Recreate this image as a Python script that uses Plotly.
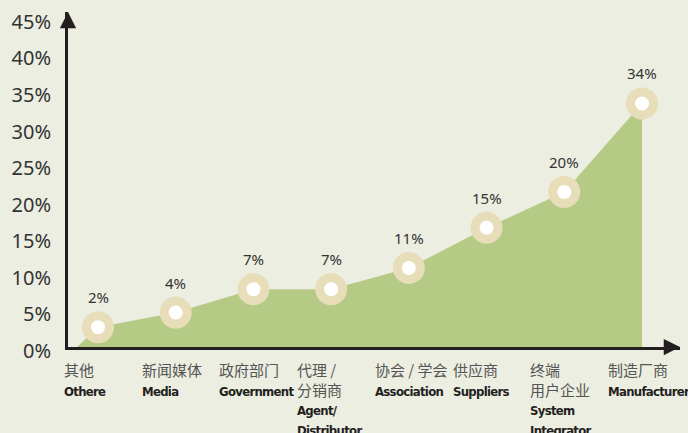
import plotly.graph_objects as go

# ---- data ----
categories_cn = ["其他", "新闻媒体", "政府部门", "代理 /<br>分销商", "协会 / 学会", "供应商", "终端<br>用户企业", "制造厂商"]
categories_en = ["Othere", "Media", "Government", "Agent/<br>Distributor", "Association", "Suppliers", "System<br>Integrator", "Manufacturer"]
values = [2.7, 4.7, 7.9, 7.9, 10.8, 16.3, 21.2, 33.3]
value_labels = ["2%", "4%", "7%", "7%", "11%", "15%", "20%", "34%"]
y_ticks = [0, 5, 10, 15, 20, 25, 30, 35, 40, 45]

# ---- style ----
BG = "#ECEEE1"
FILL = "#B5CA85"
RING = "#E7DEB9"
AXIS = "#231F20"
TXT = "#333333"
LEAD_IN = 0.27  # fill starts slightly before first category

xs = list(range(len(values)))

fig = go.Figure()

# area
fig.add_trace(go.Scatter(
    x=[xs[0] - LEAD_IN] + xs + [xs[-1]],
    y=[0] + values + [0],
    fill="toself", fillcolor=FILL, mode="none", hoverinfo="skip", showlegend=False,
))

# markers
fig.add_trace(go.Scatter(
    x=xs, y=values, mode="markers",
    marker=dict(size=23, color="white", line=dict(color=RING, width=9)),
    showlegend=False, cliponaxis=False,
))

# value labels
for x, v, t in zip(xs, values, value_labels):
    fig.add_annotation(x=x, y=v, text=t, showarrow=False, yshift=30,
                       font=dict(size=15, color=TXT, family="Noto Sans, sans-serif"))

# category labels
EN_STYLE = ("font-family:'DejaVu Sans Condensed','DejaVu Sans',sans-serif;font-stretch:condensed;"
            "font-weight:bold;color:#231F20;font-size:13px;letter-spacing:-0.7px")
for x, cn, en in zip(xs, categories_cn, categories_en):
    txt = (f'<span style="color:#555555;font-family:\'Noto Sans CJK SC\';font-size:15px">{cn}</span><br>'
           f'<span style="{EN_STYLE}">{en}</span>')
    fig.add_annotation(x=x, y=0, yref="paper", text=txt, showarrow=False,
                       xanchor="left", yanchor="top", align="left", xshift=-36, yshift=-10,
                       font=dict(size=15, color=TXT, family="Noto Sans CJK SC"))

# axis arrowheads
fig.add_annotation(x=0, y=1, xref="paper", yref="paper", ax=0, ay=16, showarrow=True,
                   arrowhead=2, arrowsize=1.3, arrowwidth=2.5, arrowcolor=AXIS, text="", standoff=0)
fig.add_annotation(x=1, y=0, xref="paper", yref="paper", ax=-16, ay=0, showarrow=True,
                   arrowhead=2, arrowsize=1.3, arrowwidth=2.5, arrowcolor=AXIS, text="", standoff=0)

fig.update_layout(
    width=688, height=433,
    margin=dict(l=68, r=8, t=12, b=86, autoexpand=False),
    paper_bgcolor=BG, plot_bgcolor=BG,
    xaxis=dict(range=[-0.386, 7.489], showgrid=False, zeroline=False, showticklabels=False,
               showline=True, linecolor=AXIS, linewidth=3, ticks="", automargin=False),
    yaxis=dict(range=[0, 45.8], tickvals=y_ticks, ticktext=[f"{t}%" for t in y_ticks],
               showgrid=False, zeroline=False, showline=True, linecolor=AXIS, linewidth=3,
               ticks="", ticklabelstandoff=10, ticklabelshift=4, automargin=False,
               tickfont=dict(size=20, color=TXT, family="Noto Sans, sans-serif")),
)

fig.write_html("out.html", config={"displayModeBar": False},
               post_script="document.body.style.margin='0';document.body.style.background='#ECEEE1';")
